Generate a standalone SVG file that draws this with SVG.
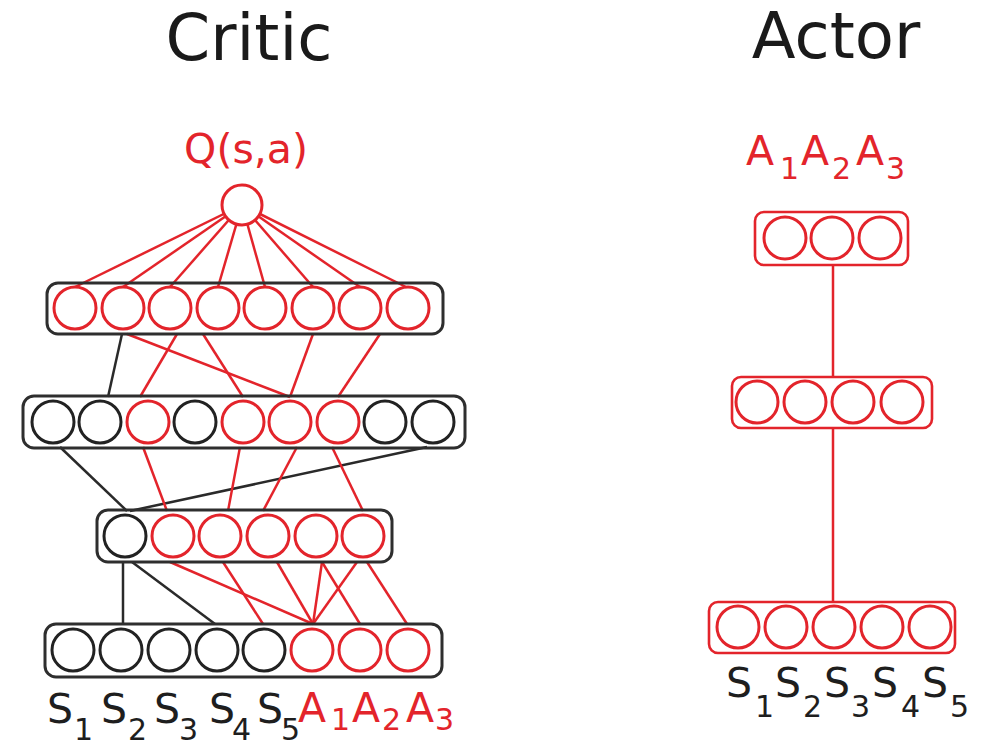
<svg xmlns="http://www.w3.org/2000/svg" width="986" height="748" viewBox="0 0 986 748">
  <style>
    .title { font-family: "DejaVu Sans", sans-serif; font-size: 64px; fill: #1a1a1a; text-anchor: middle; }
    .lbl { font-family: "DejaVu Sans", sans-serif; font-size: 41px; }
    .sub { font-size: 30px; }
    .k { fill: #1e1e1e; }
    .r { fill: #e3242b; }
    .box { fill: none; stroke: #2e2e2e; stroke-width: 3; }
    .rbox { fill: none; stroke: #e3242b; stroke-width: 2.6; }
    .nk { fill: #fff; stroke: #222; stroke-width: 3; }
    .nr { fill: #fff; stroke: #e3242b; stroke-width: 3; }
    .ek { stroke: #2a2a2a; stroke-width: 2.5; fill: none; }
    .er { stroke: #e3242b; stroke-width: 2.5; fill: none; }
  </style>

  <!-- titles -->
  <text class="title" x="249" y="60">Critic</text>
  <text class="title" x="836" y="58">Actor</text>

  <!-- connectors -->
  <g id="connectors">
    <!-- output node to first hidden layer -->
    <g class="er">
      <line x1="242" y1="205" x2="75" y2="287"/>
      <line x1="242" y1="205" x2="123" y2="287"/>
      <line x1="242" y1="205" x2="170" y2="287"/>
      <line x1="242" y1="205" x2="218" y2="287"/>
      <line x1="242" y1="205" x2="265" y2="287"/>
      <line x1="242" y1="205" x2="313" y2="287"/>
      <line x1="242" y1="205" x2="360" y2="287"/>
      <line x1="242" y1="205" x2="406" y2="287"/>
    </g>
    <!-- layer 1 to layer 2 -->
    <line class="ek" x1="122" y1="334" x2="108" y2="397"/>
    <g class="er">
      <line x1="127" y1="334" x2="290" y2="397"/>
      <line x1="177" y1="334" x2="140" y2="397"/>
      <line x1="203" y1="334" x2="243" y2="397"/>
      <line x1="313" y1="334" x2="290" y2="397"/>
      <line x1="380" y1="334" x2="338" y2="397"/>
    </g>
    <!-- layer 2 to layer 3 -->
    <line class="ek" x1="60" y1="447" x2="127" y2="511"/>
    <line class="ek" x1="427" y1="447" x2="130" y2="511"/>
    <g class="er">
      <line x1="143" y1="447" x2="167" y2="511"/>
      <line x1="240" y1="447" x2="228" y2="511"/>
      <line x1="297" y1="447" x2="263" y2="511"/>
      <line x1="332" y1="447" x2="363" y2="511"/>
    </g>
    <!-- layer 3 to input layer -->
    <line class="ek" x1="123" y1="562" x2="123" y2="624"/>
    <line class="ek" x1="132" y1="562" x2="215" y2="624"/>
    <g class="er">
      <line x1="170" y1="562" x2="313" y2="624"/>
      <line x1="223" y1="562" x2="263" y2="624"/>
      <line x1="277" y1="562" x2="313" y2="624"/>
      <line x1="322" y1="562" x2="313" y2="624"/>
      <line x1="322" y1="562" x2="360" y2="624"/>
      <line x1="357" y1="562" x2="313" y2="624"/>
      <line x1="367" y1="562" x2="407" y2="624"/>
    </g>
    <!-- actor chain -->
    <line class="er" x1="833" y1="265" x2="833" y2="377"/>
    <line class="er" x1="833" y1="427" x2="833" y2="602"/>
  </g>

  <!-- critic output -->
  <g id="critic-q">
    <text class="lbl r" x="246" y="163" text-anchor="middle">Q(s,a)</text>
    <circle class="nr" cx="242" cy="205" r="20"/>
  </g>

  <!-- critic hidden layer 1 -->
  <g id="critic-h1">
    <circle class="nr" cx="75" cy="308" r="21"/>
    <circle class="nr" cx="123" cy="308" r="21"/>
    <circle class="nr" cx="170" cy="308" r="21"/>
    <circle class="nr" cx="218" cy="308" r="21"/>
    <circle class="nr" cx="265" cy="308" r="21"/>
    <circle class="nr" cx="313" cy="308" r="21"/>
    <circle class="nr" cx="360" cy="308" r="21"/>
    <circle class="nr" cx="408" cy="308" r="21"/>
    <rect class="box" x="47" y="283" width="396" height="51" rx="11"/>
  </g>

  <!-- critic hidden layer 2 -->
  <g id="critic-h2">
    <circle class="nk" cx="53" cy="422" r="21"/>
    <circle class="nk" cx="100" cy="422" r="21"/>
    <circle class="nr" cx="148" cy="422" r="21"/>
    <circle class="nk" cx="195" cy="422" r="21"/>
    <circle class="nr" cx="243" cy="422" r="21"/>
    <circle class="nr" cx="290" cy="422" r="21"/>
    <circle class="nr" cx="338" cy="422" r="21"/>
    <circle class="nk" cx="385" cy="422" r="21"/>
    <circle class="nk" cx="433" cy="422" r="21"/>
    <rect class="box" x="23" y="396" width="442" height="52" rx="11"/>
  </g>

  <!-- critic hidden layer 3 -->
  <g id="critic-h3">
    <circle class="nk" cx="125" cy="536" r="21"/>
    <circle class="nr" cx="173" cy="536" r="21"/>
    <circle class="nr" cx="220" cy="536" r="21"/>
    <circle class="nr" cx="268" cy="536" r="21"/>
    <circle class="nr" cx="316" cy="536" r="21"/>
    <circle class="nr" cx="363" cy="536" r="21"/>
    <rect class="box" x="97" y="510" width="295" height="52" rx="11"/>
  </g>

  <!-- critic input layer: states and actions -->
  <g id="critic-in">
    <circle class="nk" cx="73" cy="650" r="21"/>
    <circle class="nk" cx="121" cy="650" r="21"/>
    <circle class="nk" cx="169" cy="650" r="21"/>
    <circle class="nk" cx="217" cy="650" r="21"/>
    <circle class="nk" cx="264" cy="650" r="21"/>
    <circle class="nr" cx="312" cy="650" r="21"/>
    <circle class="nr" cx="360" cy="650" r="21"/>
    <circle class="nr" cx="408" cy="650" r="21"/>
    <rect class="box" x="45" y="624" width="397" height="53" rx="11"/>
    <text class="lbl k" y="723"><tspan x="47">S</tspan><tspan class="sub" x="74" y="740">1</tspan><tspan x="101" y="723">S</tspan><tspan class="sub" x="128" y="740">2</tspan><tspan x="154" y="723">S</tspan><tspan class="sub" x="179" y="740">3</tspan><tspan x="209" y="723">S</tspan><tspan class="sub" x="232" y="740">4</tspan><tspan x="257" y="723">S</tspan><tspan class="sub" x="281" y="740">5</tspan></text>
    <text class="lbl r" y="722"><tspan x="298">A</tspan><tspan class="sub" x="331" y="730">1</tspan><tspan x="352" y="722">A</tspan><tspan class="sub" x="382" y="730">2</tspan><tspan x="406" y="722">A</tspan><tspan class="sub" x="435" y="730">3</tspan></text>
  </g>

  <!-- actor output layer -->
  <g id="actor-out">
    <text class="lbl r" y="165"><tspan x="746">A</tspan><tspan class="sub" x="780" y="179">1</tspan><tspan x="801" y="165">A</tspan><tspan class="sub" x="832" y="179">2</tspan><tspan x="856" y="165">A</tspan><tspan class="sub" x="886" y="179">3</tspan></text>
    <circle class="nr" cx="785" cy="238" r="21"/>
    <circle class="nr" cx="832" cy="238" r="21"/>
    <circle class="nr" cx="880" cy="238" r="21"/>
    <rect class="rbox" x="755" y="212" width="153" height="53" rx="9"/>
  </g>

  <!-- actor hidden layer -->
  <g id="actor-h">
    <circle class="nr" cx="757" cy="402" r="21"/>
    <circle class="nr" cx="805" cy="402" r="21"/>
    <circle class="nr" cx="853" cy="402" r="21"/>
    <circle class="nr" cx="902" cy="402" r="21"/>
    <rect class="rbox" x="732" y="377" width="200" height="51" rx="9"/>
  </g>

  <!-- actor input layer -->
  <g id="actor-in">
    <circle class="nr" cx="738" cy="627" r="21"/>
    <circle class="nr" cx="786" cy="627" r="21"/>
    <circle class="nr" cx="834" cy="627" r="21"/>
    <circle class="nr" cx="882" cy="627" r="21"/>
    <circle class="nr" cx="930" cy="627" r="21"/>
    <rect class="rbox" x="709" y="602" width="246" height="51" rx="9"/>
    <text class="lbl k" y="697"><tspan x="726">S</tspan><tspan class="sub" x="755" y="717">1</tspan><tspan x="775" y="697">S</tspan><tspan class="sub" x="803" y="717">2</tspan><tspan x="824" y="697">S</tspan><tspan class="sub" x="851" y="717">3</tspan><tspan x="872" y="697">S</tspan><tspan class="sub" x="901" y="717">4</tspan><tspan x="922" y="697">S</tspan><tspan class="sub" x="950" y="717">5</tspan></text>
  </g>
</svg>
